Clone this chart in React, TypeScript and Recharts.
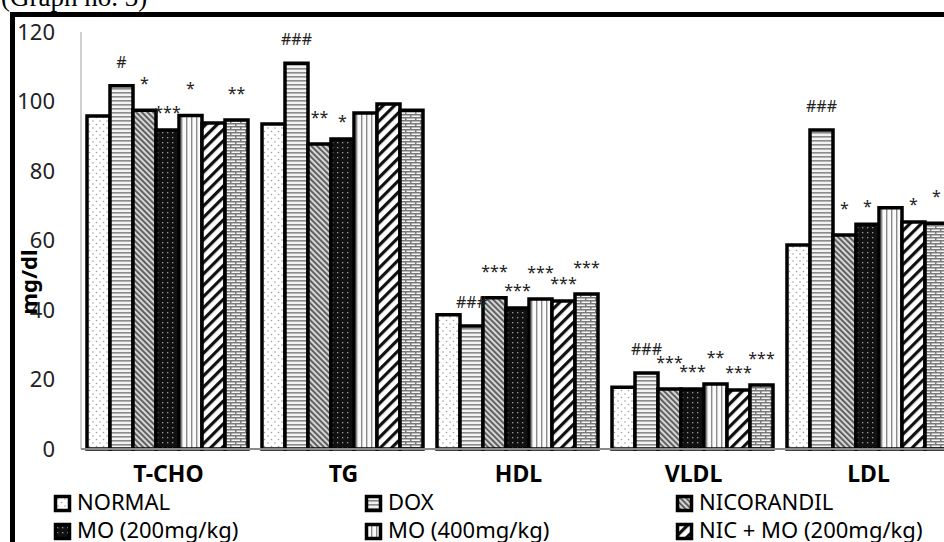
import React from "react";
import { BarChart, Bar, XAxis, YAxis, LabelList } from "recharts";

const categories = ["T-CHO", "TG", "HDL", "VLDL", "LDL"];

const seriesNames = [
	"NORMAL",
	"DOX",
	"NICORANDIL",
	"MO (200mg/kg)",
	"MO (400mg/kg)",
	"NIC + MO (200mg/kg)",
	"NIC + MO (400mg/kg)",
];
const seriesKeys = ["normal", "dox", "nicorandil", "mo200", "mo400", "nicMo200", "nicMo400"];

// values in mg/dl, one per category
const normal = [95.8, 93.5, 38.6, 17.8, 58.7];
const dox = [104.5, 111, 35.4, 21.9, 91.8];
const nicorandil = [97.5, 87.8, 43.5, 17.3, 61.6];
const mo200 = [91.8, 89.2, 40.6, 17.3, 64.7];
const mo400 = [96, 96.7, 43.2, 18.7, 69.4];
const nicMo200 = [93.8, 99.3, 42.6, 17.0, 65.3];
const nicMo400 = [94.7, 97.5, 44.6, 18.4, 65.0];

// significance marks above the bars
const normalSig = ["", "", "", "", ""];
const doxSig = ["#", "###", "###", "###", "###"];
const nicorandilSig = ["*", "**", "***", "***", "*"];
const mo200Sig = ["***", "*", "***", "***", "*"];
const mo400Sig = ["*", "", "***", "**", ""];
const nicMo200Sig = ["", "", "***", "***", "*"];
const nicMo400Sig = ["**", "", "***", "***", "*"];

const yTicks = [0, 20, 40, 60, 80, 100, 120];

const seriesValues = [normal, dox, nicorandil, mo200, mo400, nicMo200, nicMo400];
const seriesSig = [normalSig, doxSig, nicorandilSig, mo200Sig, mo400Sig, nicMo200Sig, nicMo400Sig];

const data = categories.map((name, i) => {
	const row: any = { name };
	seriesKeys.forEach((k, s) => {
		row[k] = seriesValues[s][i];
		row[k + "Sig"] = seriesSig[s][i];
	});
	return row;
});

const FONT = "'Noto Sans', sans-serif";

// marks alternate height so neighbouring ones don't collide
const SigLabel = (props: any) => {
	const vb = props.viewBox || props;
	const { x, y, width } = vb;
	const { value, lift } = props;
	if (!value) return null;
	const dy = String(value).startsWith("#") ? 18 : lift;
	return (
		<text
			x={x + width / 2}
			y={y - dy}
			textAnchor="middle"
			fontSize={16}
			fontFamily={FONT}
			fill="#222"
		>
			{value}
		</text>
	);
};

const Patterns = () => (
	<defs>
		<pattern id="pat-normal" width="7" height="7" patternUnits="userSpaceOnUse">
			<rect width="7" height="7" fill="#fff" />
			<circle cx="2" cy="2" r="0.8" fill="#a0a0a0" />
			<circle cx="5.5" cy="5.5" r="0.8" fill="#a0a0a0" />
		</pattern>
		<pattern id="pat-dox" width="6" height="4" patternUnits="userSpaceOnUse">
			<rect width="6" height="4" fill="#f2f2f2" />
			<rect width="6" height="1.6" fill="#8a8a8a" />
		</pattern>
		<pattern
			id="pat-nicorandil"
			width="4"
			height="4"
			patternUnits="userSpaceOnUse"
			patternTransform="rotate(-45)"
		>
			<rect width="4" height="4" fill="#d6d6d6" />
			<rect width="1.8" height="4" fill="#555" />
		</pattern>
		<pattern id="pat-mo200" width="5" height="5" patternUnits="userSpaceOnUse">
			<rect width="5" height="5" fill="#111" />
			<rect x="2" y="2" width="1.3" height="1.3" fill="#9a9a9a" />
		</pattern>
		<pattern id="pat-mo400" width="5" height="5" patternUnits="userSpaceOnUse">
			<rect width="5" height="5" fill="#fafafa" />
			<rect x="1" width="1.4" height="5" fill="#8a8a8a" />
		</pattern>
		<pattern
			id="pat-nicMo200"
			width="8"
			height="8"
			patternUnits="userSpaceOnUse"
			patternTransform="rotate(45)"
		>
			<rect width="8" height="8" fill="#fff" />
			<rect width="3.2" height="8" fill="#111" />
		</pattern>
		<pattern id="pat-nicMo400" width="10" height="6" patternUnits="userSpaceOnUse">
			<rect width="10" height="6" fill="#f4f4f4" />
			<rect width="10" height="1.5" fill="#7a7a7a" />
			<rect y="3" width="10" height="1.5" fill="#7a7a7a" />
			<rect width="1.5" height="3" fill="#7a7a7a" />
			<rect x="5" y="3" width="1.5" height="3" fill="#7a7a7a" />
		</pattern>
	</defs>
);

const legendCols = [54, 365, 676];
const legendRows = [495, 523];

const App = () => {
	return (
		<div
			style={{
				position: "absolute",
				left: 0,
				top: 0,
				width: 944,
				height: 542,
				overflow: "hidden",
				background: "#fff",
			}}
		>
			<BarChart
				width={1000}
				height={542}
				data={data}
				margin={{ top: 32, right: 44, left: 21, bottom: 63 }}
				barCategoryGap={6}
				barGap={0}
			>
				<Patterns />
				<XAxis
					dataKey="name"
					interval={0}
					tickLine={false}
					tickSize={0}
					tickMargin={17}
					height={30}
					axisLine={{ stroke: "#8a8a8a", strokeWidth: 2 }}
					tick={{ fontSize: 23, fontWeight: 700, fontFamily: FONT, fill: "#000" }}
				/>
				<YAxis
					domain={[0, 120]}
					ticks={yTicks}
					interval={0}
					width={60}
					tickLine={false}
					tickSize={0}
					tickMargin={26}
					axisLine={{ stroke: "#a0a0a0", strokeWidth: 1 }}
					tick={{ fontSize: 22, fontFamily: FONT, fill: "#222" }}
				/>
				{seriesKeys.map((k, s) => (
					<Bar
						key={k}
						dataKey={k}
						fill={`url(#pat-${k})`}
						stroke="#000"
						strokeWidth={3.5}
						isAnimationActive={false}
					>
						<LabelList
							dataKey={k + "Sig"}
							content={<SigLabel lift={s % 2 === 0 ? 21 : 12} />}
						/>
					</Bar>
				))}
			</BarChart>
			<svg
				width={944}
				height={542}
				style={{ position: "absolute", left: 0, top: 0, pointerEvents: "none" }}
			>
				<text x={1} y={6} fontSize={27} fontFamily="'Liberation Serif', serif" fill="#000">
					(Graph no. 3)
				</text>
				<rect x={12.5} y={14.5} width={1000} height={1000} fill="none" stroke="#000" strokeWidth={5} />
				<text
					transform="translate(37,282) rotate(-90)"
					textAnchor="middle"
					fontSize={22}
					fontWeight={700}
					fontFamily={FONT}
					fill="#000"
				>
					mg/dl
				</text>
				{seriesNames.slice(0, 6).map((name, i) => {
					const x = legendCols[i % 3];
					const y = legendRows[Math.floor(i / 3)];
					return (
						<g key={name}>
							<rect
								x={x + 1.5}
								y={y + 1.5}
								width={14}
								height={14}
								fill={`url(#pat-${seriesKeys[i]})`}
								stroke="#000"
								strokeWidth={3.5}
							/>
							<text x={x + 23} y={y + 15} fontSize={22} fontFamily={FONT} fill="#000">
								{name}
							</text>
						</g>
					);
				})}
			</svg>
		</div>
	);
};

export default App;
